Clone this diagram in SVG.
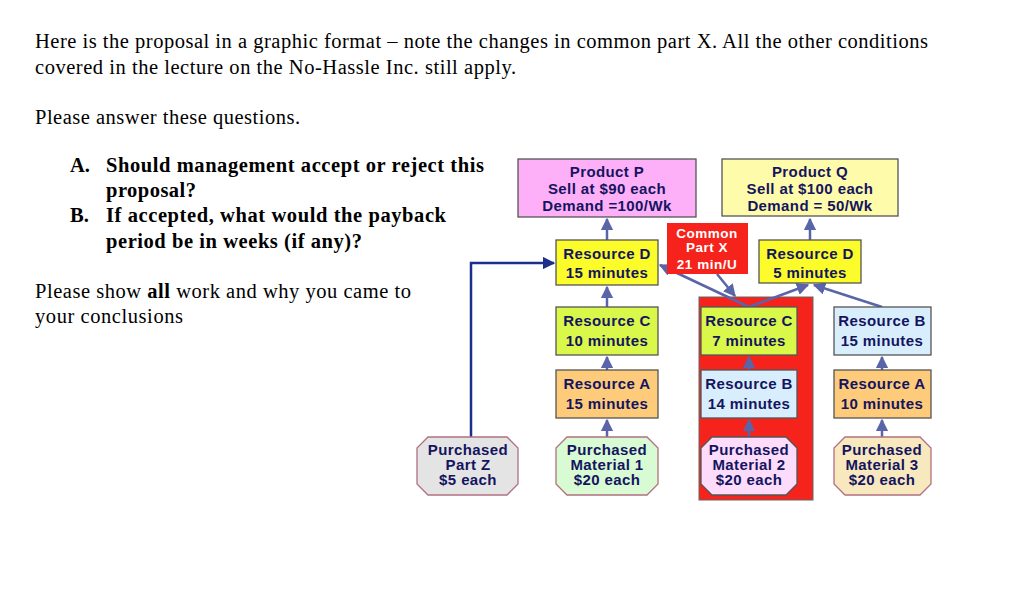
<svg xmlns="http://www.w3.org/2000/svg" width="1024" height="611" viewBox="0 0 1024 611">
<defs>
<marker id="ah" viewBox="0 0 10 10" refX="9" refY="5" markerWidth="5" markerHeight="5" orient="auto"><path d="M0,0 L10,5 L0,10 z" fill="#5a64a8"/></marker>
<marker id="ahd" viewBox="0 0 10 10" refX="9" refY="5" markerWidth="5" markerHeight="5" orient="auto"><path d="M0,0 L10,5 L0,10 z" fill="#1c2f8c"/></marker>
<style>
.t{font-family:"Liberation Serif",serif;font-size:20.5px;fill:#000}
.b{font-weight:bold}
.n{font-family:"Liberation Sans",Arial,sans-serif;font-size:15px;letter-spacing:0.4px;font-weight:bold;fill:#14145f;text-anchor:middle}
.w{fill:#fff;font-size:13.5px;letter-spacing:0.5px}
.bx{stroke:#555;stroke-width:1.3}
.c{stroke:#5a64a8;stroke-width:2.5;fill:none;marker-end:url(#ah)}
</style>
</defs>
<rect width="1024" height="611" fill="#fff"/>
<g id="text">
<text class="t" x="35" y="48" textLength="893">Here is the proposal in a graphic format – note the changes in common part X. All the other conditions</text>
<text class="t" x="35" y="74" textLength="481">covered in the lecture on the No-Hassle Inc. still apply.</text>
<text class="t" x="35" y="124" textLength="265">Please answer these questions.</text>
<text class="t b" x="70" y="172">A.</text><text class="t b" x="106" y="172" textLength="378">Should management accept or reject this</text>
<text class="t b" x="106" y="197" textLength="90">proposal?</text>
<text class="t b" x="70" y="222">B.</text><text class="t b" x="106" y="222" textLength="340">If accepted, what would the payback</text>
<text class="t b" x="106" y="248" textLength="256">period be in weeks (if any)?</text>
<text class="t" x="35" y="298" textLength="376">Please show <tspan font-weight="bold">all</tspan> work and why you came to</text>
<text class="t" x="35" y="323" textLength="148">your conclusions</text>
</g>
<rect id="redbg" x="699" y="297" width="114" height="203" fill="#f5231b" stroke="#666"/>
<g id="connectors">
<path d="M607,240 V219" class="c"/>
<path d="M810,240 V219" class="c"/>
<path d="M607,307 V287" class="c"/>
<path d="M607,370 V357" class="c"/>
<path d="M607,437 V420" class="c"/>
<path d="M749,370 V357" class="c"/>
<path d="M749,437 V420" class="c"/>
<path d="M882,370 V357" class="c"/>
<path d="M882,437 V420" class="c"/>
<path d="M749,307 L660,265" class="c"/>
<path d="M717,274 L735,296" class="c"/>
<path d="M749,307 L808,285" class="c"/>
<path d="M882,307 L814,285" class="c"/>
<path d="M471,437 V263 H554" stroke="#1c2f8c" stroke-width="2.5" fill="none" marker-end="url(#ahd)"/>
</g>
<g id="productP"><rect class="bx" x="518" y="159" width="178" height="58" fill="#fdb0f8"/><text class="n" x="607" y="177">Product P</text><text class="n" x="607" y="194">Sell at $90 each</text><text class="n" x="607" y="211">Demand =100/Wk</text></g>
<g id="productQ"><rect class="bx" x="722" y="159" width="176" height="57" fill="#fefcaa"/><text class="n" x="810" y="177">Product Q</text><text class="n" x="810" y="194">Sell at $100 each</text><text class="n" x="810" y="211">Demand = 50/Wk</text></g>
<g id="common"><rect x="667" y="223" width="81" height="51" fill="#f5231b"/><text class="n w" x="707" y="238">Common</text><text class="n w" x="707" y="252">Part X</text><text class="n w" x="707" y="269">21 min/U</text></g>
<g id="resDL"><rect class="bx" x="556" y="240" width="102" height="45" fill="#fbfc2a"/><text class="n" x="607" y="259">Resource D</text><text class="n" x="607" y="278">15 minutes</text></g>
<g id="resDR"><rect class="bx" x="759" y="240" width="102" height="43" fill="#fbfc2a"/><text class="n" x="810" y="259">Resource D</text><text class="n" x="810" y="278">5 minutes</text></g>
<g id="resCL"><rect class="bx" x="556" y="307" width="102" height="48" fill="#d9f84a"/><text class="n" x="607" y="326">Resource C</text><text class="n" x="607" y="346">10 minutes</text></g>
<g id="resCM"><rect class="bx" x="701" y="307" width="96" height="48" fill="#d9f84a"/><text class="n" x="749" y="326">Resource C</text><text class="n" x="749" y="346">7 minutes</text></g>
<g id="resBR"><rect class="bx" x="834" y="307" width="97" height="48" fill="#d8eefc"/><text class="n" x="882" y="326">Resource B</text><text class="n" x="882" y="346">15 minutes</text></g>
<g id="resAL"><rect class="bx" x="556" y="370" width="102" height="48" fill="#fdcb7a"/><text class="n" x="607" y="389">Resource A</text><text class="n" x="607" y="409">15 minutes</text></g>
<g id="resBM"><rect class="bx" x="701" y="370" width="96" height="48" fill="#d8eefc"/><text class="n" x="749" y="389">Resource B</text><text class="n" x="749" y="409">14 minutes</text></g>
<g id="resAR"><rect class="bx" x="834" y="370" width="97" height="48" fill="#fdcb7a"/><text class="n" x="882" y="389">Resource A</text><text class="n" x="882" y="409">10 minutes</text></g>
<g id="partZ"><polygon points="428,437 507,437 518,448 518,484 507,495 428,495 417,484 417,448" fill="#e4e4e4" stroke="#b07080" stroke-width="1.3"/><text class="n" x="468" y="455">Purchased</text><text class="n" x="468" y="470">Part Z</text><text class="n" x="468" y="485">$5 each</text></g>
<g id="mat1"><polygon points="567,437 647,437 658,448 658,484 647,495 567,495 556,484 556,448" fill="#d8fbd4" stroke="#b07080" stroke-width="1.3"/><text class="n" x="607" y="455">Purchased</text><text class="n" x="607" y="470">Material 1</text><text class="n" x="607" y="485">$20 each</text></g>
<g id="mat2"><polygon points="712,437 786,437 797,448 797,484 786,495 712,495 701,484 701,448" fill="#fddcfb" stroke="#555" stroke-width="1.3"/><text class="n" x="749" y="455">Purchased</text><text class="n" x="749" y="470">Material 2</text><text class="n" x="749" y="485">$20 each</text></g>
<g id="mat3"><polygon points="845,437 920,437 931,448 931,484 920,495 845,495 834,484 834,448" fill="#f8e8be" stroke="#b07080" stroke-width="1.3"/><text class="n" x="882" y="455">Purchased</text><text class="n" x="882" y="470">Material 3</text><text class="n" x="882" y="485">$20 each</text></g>
</svg>
